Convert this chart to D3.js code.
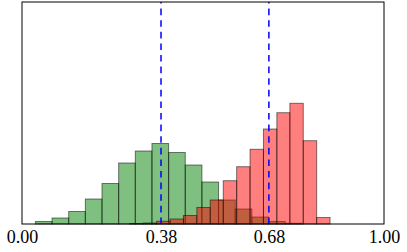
<!DOCTYPE html>
<html>
<head>
<meta charset="utf-8">
<script src="https://cdn.jsdelivr.net/npm/d3@7"></script>
<style>
  html, body { margin: 0; padding: 0; background: #fff; }
  svg { display: block; }
</style>
</head>
<body>
<svg id="chart" width="407" height="252"></svg>
<script>
// ---- data ----
const greenEdges = [0.037, 0.083, 0.129, 0.175, 0.221, 0.267, 0.313, 0.359, 0.405,
                    0.451, 0.497, 0.543, 0.589, 0.635, 0.681, 0.727, 0.773];
const greenCounts = [2.5, 6, 12.5, 25, 40.5, 61, 73, 80.5, 71.5, 59, 42, 24, 15, 7, 2.5, 0.7];

const redEdges = [0.298, 0.335, 0.372, 0.409, 0.446, 0.483, 0.520, 0.556, 0.593,
                  0.630, 0.667, 0.704, 0.740, 0.777, 0.814, 0.851];
const redCounts = [0.5, 1, 2.7, 5, 8.5, 16.5, 24, 43.3, 57.3, 74.7, 95, 111.3, 120.7, 83.3, 6.5];

const meanLines = [0.384, 0.682];
const tickValues = [0.0, 0.384, 0.682, 1.0];

// ---- layout ----
const svg = d3.select("#chart");
const mLeft = 22, mRight = 384, mTop = 2, mBottom = 224;

const x = d3.scaleLinear().domain([0, 1]).range([mLeft, mRight]);
const y = d3.scaleLinear().domain([0, 222]).range([mBottom, mTop]);

function bins(edges, counts) {
  return counts.map((c, i) => ({ x0: edges[i], x1: edges[i + 1], v: c }));
}

function drawHist(data, color) {
  svg.append("g").selectAll("rect").data(data).join("rect")
    .attr("x", d => x(d.x0))
    .attr("width", d => x(d.x1) - x(d.x0))
    .attr("y", d => y(d.v))
    .attr("height", d => y(0) - y(d.v))
    .attr("fill", color)
    .attr("fill-opacity", 0.5)
    .attr("stroke", "#000")
    .attr("stroke-opacity", 0.5)
    .attr("stroke-width", 1);
}

drawHist(bins(greenEdges, greenCounts), "#008000");
drawHist(bins(redEdges, redCounts), "#ff0000");

// dashed mean lines
svg.append("g").selectAll("line").data(meanLines).join("line")
  .attr("x1", d => x(d)).attr("x2", d => x(d))
  .attr("y1", y.range()[0]).attr("y2", y.range()[1])
  .attr("stroke", "#0000ff")
  .attr("stroke-width", 1.5)
  .attr("stroke-dasharray", "6.6,5");

// frame
svg.append("rect")
  .attr("x", mLeft).attr("y", mTop)
  .attr("width", mRight - mLeft).attr("height", mBottom - mTop)
  .attr("fill", "none").attr("stroke", "#000").attr("stroke-width", 1);

// x axis labels
const axis = d3.axisBottom(x).tickValues(tickValues)
  .tickFormat(d3.format(".2f")).tickSize(0).tickPadding(6);
const gx = svg.append("g").attr("transform", `translate(0,${mBottom})`).call(axis);
gx.select(".domain").remove();
gx.selectAll("text")
  .attr("fill", "#000")
  .style("font-family", "'Liberation Serif', 'DejaVu Serif', serif")
  .style("font-size", "18px");
</script>
</body>
</html>
